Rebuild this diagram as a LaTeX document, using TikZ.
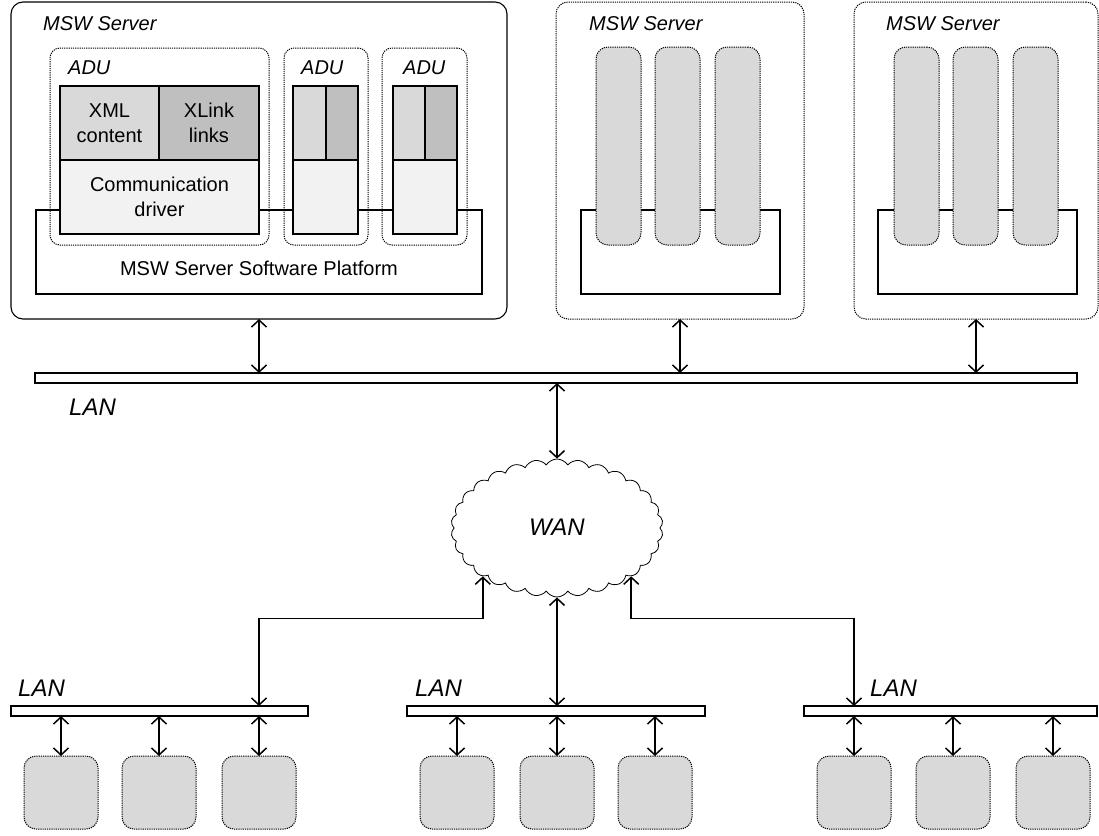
\documentclass[tikz,border=0pt]{standalone}
\usepackage{fontspec}
\setmainfont{Liberation Sans}
\usetikzlibrary{arrows.meta,shapes.symbols}
\definecolor{gA}{HTML}{D9D9D9}
\definecolor{gB}{HTML}{BFBFBF}
\definecolor{gC}{HTML}{F2F2F2}
\begin{document}
\begin{tikzpicture}[x=1pt,y=-1pt,
  box/.style={draw, anchor=north west, inner sep=0pt, outer sep=0pt, line width=1.1pt},
  dotbox/.style={box, line width=1pt, dash pattern=on 1.2pt off 1pt},
  srvsolid/.style={box, rounded corners=12pt},
  srvdot/.style={dotbox, rounded corners=12pt},
  adubox/.style={dotbox, rounded corners=10pt},
  xmlb/.style={box, fill=gA, align=center, font=\fontsize{20}{25}\selectfont},
  xlinkb/.style={box, fill=gB, align=center, font=\fontsize{20}{25}\selectfont},
  commb/.style={box, fill=gC, align=center, font=\fontsize{20}{25}\selectfont},
  platb/.style={box, fill=none},
  pill/.style={dotbox, fill=gA, rounded corners=12pt, minimum width=45pt, minimum height=198pt},
  dev/.style={dotbox, fill=gA, rounded corners=12pt, minimum width=74pt, minimum height=73pt},
  lanbar/.style={box, minimum height=10pt},
  lbl/.style={anchor=west, inner sep=0pt, font=\fontsize{20}{24}\selectfont\itshape},
  biglbl/.style={anchor=west, inner sep=0pt, font=\fontsize{24}{28}\selectfont\itshape},
  arr/.style={line width=1.5pt, {Straight Barb[length=7pt,width=15pt]}-{Straight Barb[length=7pt,width=15pt]}}
]
\useasboundingbox (0,0) rectangle (1099,835);

% ---- Server 1
\node[srvsolid, minimum width=496pt, minimum height=317pt] (s1) at (11,2) {};
\node[lbl] (s1l) at (43,24) {MSW Server};
\node[platb, minimum width=446pt, minimum height=84pt] (p1) at (36,210) {};
\node[inner sep=0pt, font=\fontsize{20}{24}\selectfont] (p1t) at (259,268) {MSW Server Software Platform};
\node[adubox, minimum width=219pt, minimum height=197pt] (a1) at (50,48) {};
\node[adubox, minimum width=84pt, minimum height=197pt] (a2) at (284,48) {};
\node[adubox, minimum width=85pt, minimum height=197pt] (a3) at (382,48) {};
\node[lbl] (a1l) at (68,68) {ADU};
\node[lbl] (a2l) at (301,68) {ADU};
\node[lbl] (a3l) at (403,68) {ADU};
\node[xmlb, minimum width=99pt, minimum height=74pt] (xml) at (60,86) {XML\\content};
\node[xlinkb, minimum width=100pt, minimum height=74pt] (xlk) at (159,86) {XLink\\links};
\node[commb, minimum width=199pt, minimum height=74pt] (com) at (60,160) {Communication\\driver};
\node[xmlb, minimum width=33pt, minimum height=74pt] (xml2) at (293,86) {};
\node[xlinkb, minimum width=32pt, minimum height=74pt] (xlk2) at (326,86) {};
\node[commb, minimum width=65pt, minimum height=74pt] (com2) at (293,160) {};
\node[xmlb, minimum width=32pt, minimum height=74pt] (xml3) at (393,86) {};
\node[xlinkb, minimum width=32pt, minimum height=74pt] (xlk3) at (425,86) {};
\node[commb, minimum width=64pt, minimum height=74pt] (com3) at (393,160) {};

% ---- Server 2
\node[srvdot, minimum width=248pt, minimum height=317pt] (s2) at (556,2) {};
\node[lbl] (s2l) at (589,24) {MSW Server};
\node[platb, minimum width=199pt, minimum height=84pt] (p2) at (581,210) {};
\node[pill] (q1) at (596,47) {};
\node[pill] (q2) at (655,47) {};
\node[pill] (q3) at (715,47) {};

% ---- Server 3
\node[srvdot, minimum width=244pt, minimum height=317pt] (s3) at (854,2) {};
\node[lbl] (s3l) at (886,24) {MSW Server};
\node[platb, minimum width=199pt, minimum height=84pt] (p3) at (878,210) {};
\node[pill] (r1) at (894,47) {};
\node[pill] (r2) at (953,47) {};
\node[pill] (r3) at (1013,47) {};

% ---- LAN top
\node[lanbar, minimum width=1042pt] (lan) at (35,373) {};
\node[biglbl] (lanl) at (69,407) {LAN};
\draw[arr] (s1.south) -- (s1.south |- lan.north);
\draw[arr] (s2.south) -- (s2.south |- lan.north);
\draw[arr] (s3.south) -- (s3.south |- lan.north);

% ---- WAN
\node[draw, cloud, cloud puffs=30, cloud puff arc=115, aspect=1.54, minimum width=212pt, minimum height=138pt, line width=0.8pt, inner sep=0pt] (wan) at (557,528) {};
\node[inner sep=0pt, font=\fontsize{24}{28}\selectfont\itshape] (wanl) at (557,527) {WAN};
\draw[arr] (wan.north |- lan.south) -- (wan.north);

% ---- bottom LANs
\node[lanbar, minimum width=297pt] (lanA) at (11,706) {};
\node[lanbar, minimum width=298pt] (lanB) at (407,706) {};
\node[lanbar, minimum width=293pt] (lanC) at (804,706) {};
\node[biglbl] (lanAl) at (18,688) {LAN};
\node[biglbl] (lanBl) at (415,688) {LAN};
\node[biglbl] (lanCl) at (870,688) {LAN};

\node[dev] (d1) at (24,756) {};
\node[dev] (d2) at (122,756) {};
\node[dev] (d3) at (222,756) {};
\node[dev] (e1) at (420,756) {};
\node[dev] (e2) at (520,756) {};
\node[dev] (e3) at (618,756) {};
\node[dev] (f1) at (817,756) {};
\node[dev] (f2) at (916,756) {};
\node[dev] (f3) at (1016,756) {};

\foreach \d/\l in {d1/lanA,d2/lanA,d3/lanA,e1/lanB,e2/lanB,e3/lanB,f1/lanC,f2/lanC,f3/lanC}
  \draw[arr] (\d.north |- \l.south) -- (\d.north);

\draw[arr] (wan.south west) -- ++(0,42) -| (d3.north |- lanA.north);
\draw[arr] (wan.south) -- (wan.south |- lanB.north);
\draw[arr] (wan.south east) -- ++(0,42) -| (f1.north |- lanC.north);
\end{tikzpicture}
\end{document}
